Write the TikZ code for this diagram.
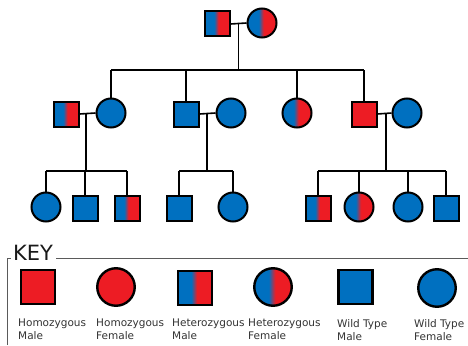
\documentclass[tikz,border=0pt]{standalone}
\usepackage{fontspec}
\setmainfont{DejaVu Sans}
\usetikzlibrary{calc}
\definecolor{hr}{RGB}{237,28,36}
\definecolor{hb}{RGB}{0,112,192}
\definecolor{frameg}{RGB}{90,90,90}
\pgfdeclarehorizontalshading{het}{100bp}{color(0bp)=(hb); color(44.5bp)=(hb); color(53bp)=(hr); color(100bp)=(hr)}
\begin{document}
\begin{tikzpicture}[x=1pt,y=-1pt,
  sq/.style={draw=black, line width=2pt, minimum size=25pt, inner sep=0pt, rectangle},
  ci/.style={draw=black, line width=2pt, minimum size=29pt, inner sep=0pt, circle},
  ksq/.style={sq, minimum size=34pt, line width=2.4pt},
  kci/.style={ci, minimum size=37.5pt, line width=2.4pt},
  hom/.style={fill=hr}, wt/.style={fill=hb}, het/.style={shade, shading=het},
  link/.style={line width=1.6pt, black},
  frame/.style={line width=1pt, frameg},
  lbl/.style={anchor=north west, inner sep=0pt, align=left, font=\fontsize{10.5}{13}\selectfont, text=black!80}
]
\useasboundingbox (0,0) rectangle (468,345);
% generation 1
\node[sq,het] (M1) at (217,24) {};
\node[ci,het] (F1) at (262,23) {};
% generation 2
\node[sq,het] (H2a) at (66,114) {};
\node[ci,wt] (F2a) at (111,113) {};
\node[sq,wt] (M2b) at (186,114) {};
\node[ci,wt] (F2b) at (231,113) {};
\node[ci,het] (HF2) at (297,113) {};
\node[sq,hom] (M2c) at (364,114) {};
\node[ci,wt] (F2c) at (407,113) {};
% generation 3
\node[ci,wt] (C1) at (46,207) {};
\node[sq,wt] (C2) at (85,208) {};
\node[sq,het] (C3) at (127,208) {};
\node[sq,wt] (C4) at (179,208) {};
\node[ci,wt] (C5) at (233,207) {};
\node[sq,het] (C6) at (318,208) {};
\node[ci,het] (C7) at (359,207) {};
\node[ci,wt] (C8) at (408,207) {};
\node[sq,wt] (C9) at (446,208) {};
% row levels
\coordinate (r1) at (0,70);
\coordinate (r2) at (0,171);
% marriage points
\coordinate (m1) at ($(M1.east)!0.5!(F1.west)$);
\coordinate (m2) at ($(H2a.east)!0.4!(F2a.west)$);
\coordinate (m3) at ($(M2b.east)!0.47!(F2b.west)$);
\coordinate (m4) at ($(M2c.east)!0.6!(F2c.west)$);
% connectors gen1
\draw[link] (M1.east) -- (m1) -- (F1.west);
\draw[link] (m1) -- (m1 |- r1);
\draw[link] (F2a.north |- r1) -- (M2c.north |- r1);
\foreach \n in {F2a,M2b,HF2,M2c} \draw[link] (\n.north |- r1) -- (\n.north);
% connectors gen2
\draw[link] (H2a.east) -- (m2) -- (F2a.west);
\draw[link] (M2b.east) -- (m3) -- (F2b.west);
\draw[link] (M2c.east) -- (m4) -- (F2c.west);
\draw[link] (m2) -- (m2 |- r2);
\draw[link] (m3) -- (m3 |- r2);
\draw[link] (m4) -- (m4 |- r2);
\draw[link] (C1.north |- r2) -- (C3.north |- r2);
\draw[link] (C4.north |- r2) -- (C5.north |- r2);
\draw[link] (C6.north |- r2) -- (C9.north |- r2);
\foreach \n in {C1,C2,C3,C4,C5,C6,C7,C8,C9} \draw[link] (\n.north |- r2) -- (\n.north);
% key
\node[anchor=base west, inner sep=0pt, font=\fontsize{21}{21}\selectfont, text=black!90] (key) at (13,260) {KEY};
\draw[frame] (7,345) -- (7,258) -- (11,258);
\draw[frame] (56,258) -- (468,258);
\node[ksq,hom] (K1) at (38,287) {};
\node[kci,hom] (K2) at (116,287) {};
\node[ksq,het] (K3) at (195,288) {};
\node[kci,het] (K4) at (273,287) {};
\node[ksq,wt] (K5) at (355.5,287) {};
\node[kci,wt] (K6) at (437,288) {};
\node[lbl] (L1) at (18,319) {Homozygous\\Male};
\node[lbl] (L2) at (96,319) {Homozygous\\Female};
\node[lbl] (L3) at (172,319) {Heterozygous\\Male};
\node[lbl] (L4) at (248,319) {Heterozygous\\Female};
\node[lbl] (L5) at (337,319) {Wild Type\\Male};
\node[lbl] (L6) at (414,319) {Wild Type\\Female};
\end{tikzpicture}
\end{document}
